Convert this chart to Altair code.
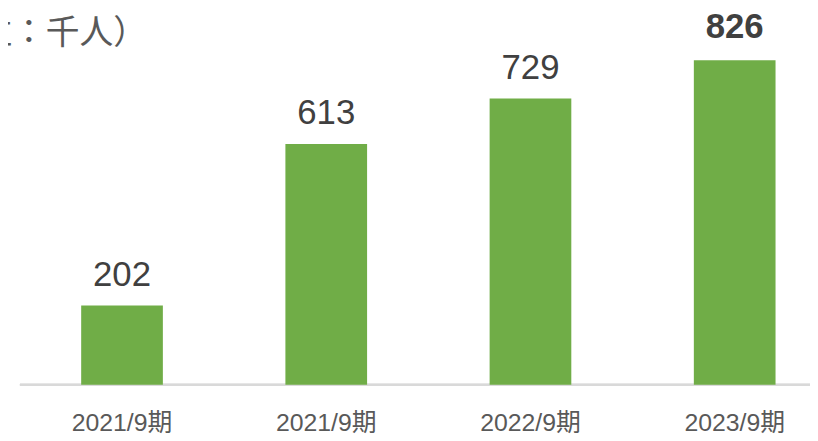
import json
import altair as alt
import pandas as pd

categories = ["2021/9期", "2021/9期", "2022/9期", "2023/9期"]
values = [202, 613, 729, 826]
bold_flags = [False, False, False, True]
unit_label = "（単位：千人）"

df = pd.DataFrame({
    "idx": list(range(len(categories))),
    "cat": categories,
    "value": values,
    "bold": bold_flags,
})

W = 796
H = 378
FONT = "Liberation Sans, Arial, Noto Sans CJK JP"

label_expr = json.dumps(categories, ensure_ascii=False) + "[datum.value]"

x = alt.X(
    "idx:O",
    scale=alt.Scale(range=[0, 823], paddingInner=0.6, paddingOuter=0.3),
    axis=alt.Axis(
        title=None, domain=False, ticks=False, tickSize=0, grid=False,
        labelExpr=label_expr, labelAngle=0, labelFontSize=25,
        labelColor="#595959", labelFont=FONT, labelBaseline="alphabetic",
        labelPadding=46,
    ),
)
y = alt.Y("value:Q", scale=alt.Scale(domain=[0, 955]), axis=None)

bars = alt.Chart(df).mark_bar(color="#70ad47").encode(x=x, y=y)

lbl_norm = alt.Chart(df).transform_filter("!datum.bold").mark_text(
    fontSize=35, font=FONT, color="#404040", baseline="alphabetic", dy=-20
).encode(x=x, y=y, text="value:Q")

lbl_bold = alt.Chart(df).transform_filter("datum.bold").mark_text(
    fontSize=35, font=FONT, fontWeight="bold", color="#404040",
    baseline="alphabetic", dy=-22
).encode(x=x, y=y, text="value:Q")

axis_line = alt.Chart(df).mark_rule(color="#d9d9d9", strokeWidth=2).encode(
    x=alt.value(0), x2=alt.value(830), y=alt.value(H)
)

title = alt.Chart(pd.DataFrame({"t": [unit_label]})).mark_text(
    fontSize=34, font="Noto Sans CJK JP", color="#595959",
    align="right", baseline="middle"
).encode(x=alt.value(128), y=alt.value(25), text="t:N")

chart = alt.layer(axis_line, bars, lbl_norm, lbl_bold, title).properties(
    width=W, height=H,
    padding={"left": 12, "top": 0, "right": 0, "bottom": 50},
    autosize=alt.AutoSizeParams(type="none"),
).configure_view(stroke=None)

chart.save("out.html", embed_options={"renderer": "svg", "actions": False})
